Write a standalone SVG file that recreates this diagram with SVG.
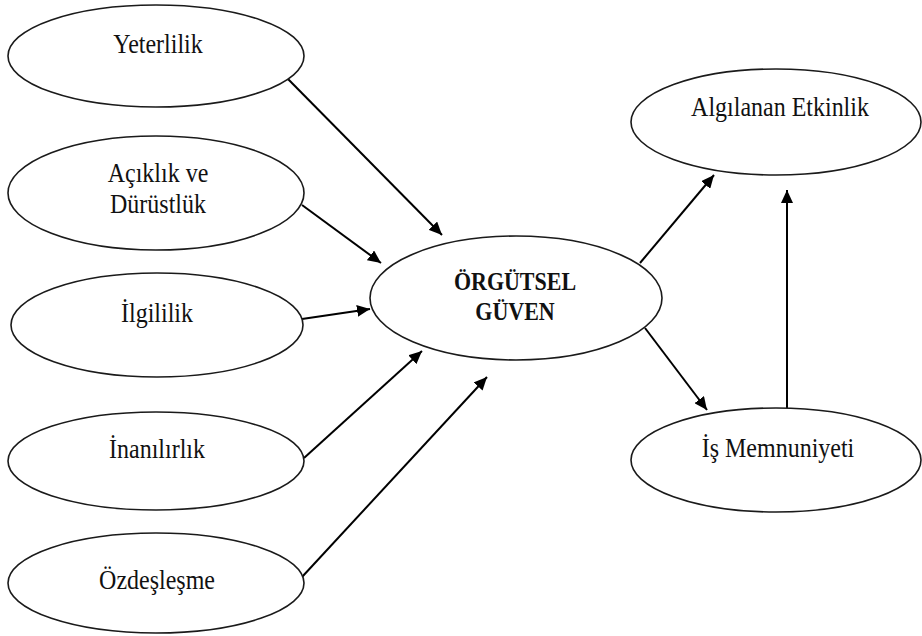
<svg xmlns="http://www.w3.org/2000/svg" width="922" height="636" viewBox="0 0 922 636">
<style>
.node{fill:#fff;stroke:#1a1a1a;stroke-width:1.6}
.lbl{font-family:'Liberation Serif',serif;font-size:24px;fill:#111;text-anchor:middle}
.bold{font-weight:bold;font-size:22px}
.edge{stroke:#000;stroke-width:2;fill:none;marker-end:url(#ah)}
</style>
<defs>
<marker id="ah" markerUnits="userSpaceOnUse" markerWidth="14" markerHeight="12" refX="13" refY="6" orient="auto">
<path d="M0,0 L13,6 L0,12 Z" fill="#000"/>
</marker>
</defs>
<rect width="922" height="636" fill="#fff"/>
<g id="connectors">
<line class="edge" x1="287" y1="78" x2="442" y2="235"/>
<line class="edge" x1="302" y1="205" x2="381" y2="263"/>
<line class="edge" x1="302" y1="319" x2="370" y2="309"/>
<line class="edge" x1="304" y1="458" x2="422" y2="351"/>
<line class="edge" x1="302" y1="577" x2="487" y2="377"/>
<line class="edge" x1="640" y1="263" x2="714" y2="175"/>
<line class="edge" x1="645" y1="328" x2="707" y2="410"/>
<line class="edge" x1="787" y1="408" x2="787" y2="190"/>
</g>
<g id="yeterlilik">
<ellipse class="node" cx="156" cy="56" rx="148" ry="51"/>
<text class="lbl" font-family="Liberation Serif, serif" transform="translate(158,53) scale(1,1.18)">Yeterlilik</text>
</g>
<g id="aciklik">
<ellipse class="node" cx="156" cy="193" rx="148" ry="57"/>
<text class="lbl" font-family="Liberation Serif, serif" transform="translate(158,182) scale(1,1.18)">Açıklık ve</text>
<text class="lbl" font-family="Liberation Serif, serif" transform="translate(158,213) scale(1,1.18)">Dürüstlük</text>
</g>
<g id="ilgililik">
<ellipse class="node" cx="157" cy="325" rx="146" ry="52"/>
<text class="lbl" font-family="Liberation Serif, serif" transform="translate(157,322) scale(1,1.18)">İlgililik</text>
</g>
<g id="inanilirlik">
<ellipse class="node" cx="156" cy="461" rx="148" ry="49"/>
<text class="lbl" font-family="Liberation Serif, serif" transform="translate(157,458) scale(1,1.18)">İnanılırlık</text>
</g>
<g id="ozdeslesme">
<ellipse class="node" cx="156" cy="583" rx="148" ry="50"/>
<text class="lbl" font-family="Liberation Serif, serif" transform="translate(157,589) scale(1,1.18)">Özdeşleşme</text>
</g>
<g id="orgutsel-guven">
<ellipse class="node" cx="516" cy="298" rx="146" ry="62"/>
<text class="lbl bold" font-family="Liberation Serif, serif" transform="translate(515,290) scale(1,1.18)">ÖRGÜTSEL</text>
<text class="lbl bold" font-family="Liberation Serif, serif" transform="translate(515,320) scale(1,1.18)">GÜVEN</text>
</g>
<g id="algilanan-etkinlik">
<ellipse class="node" cx="776" cy="122" rx="145" ry="53"/>
<text class="lbl" font-family="Liberation Serif, serif" transform="translate(780,116) scale(1,1.18)">Algılanan Etkinlik</text>
</g>
<g id="is-memnuniyeti">
<ellipse class="node" cx="776" cy="460" rx="145" ry="52"/>
<text class="lbl" font-family="Liberation Serif, serif" transform="translate(778,457) scale(1,1.18)">İş Memnuniyeti</text>
</g>
</svg>
